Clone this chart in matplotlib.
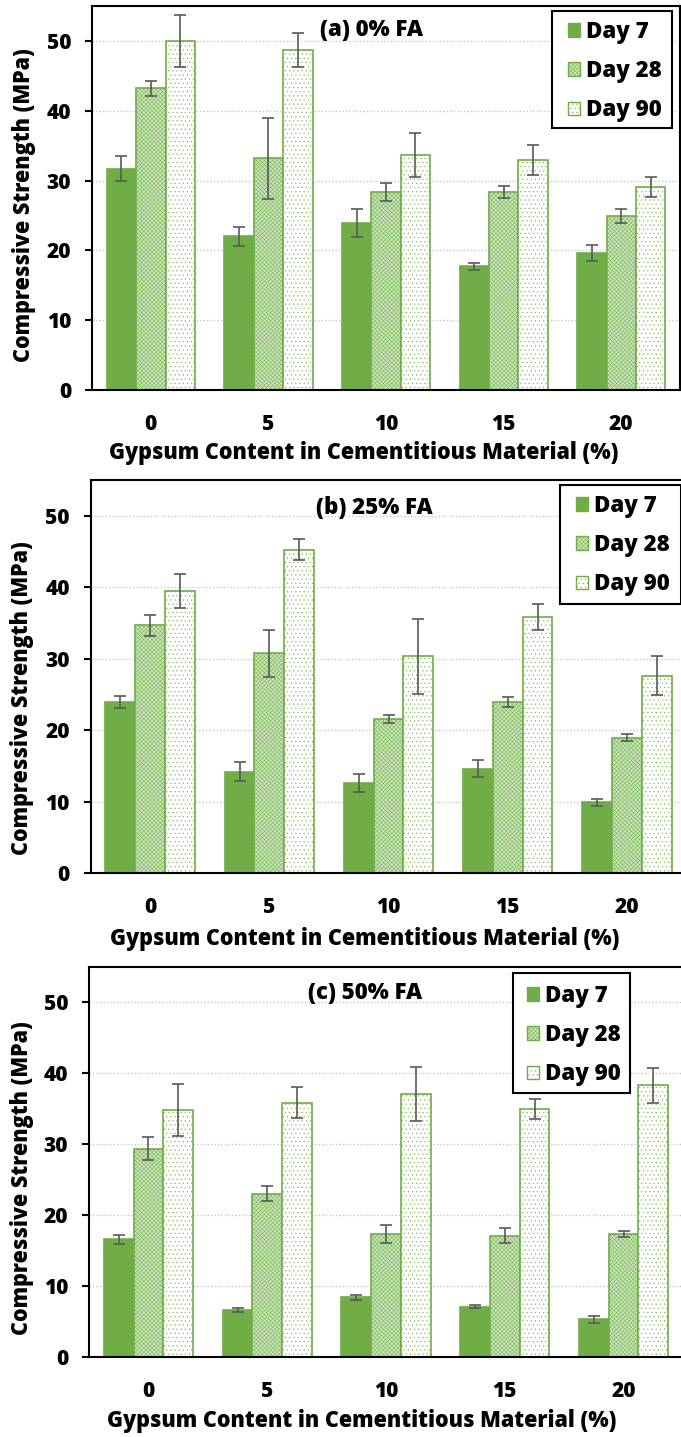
import matplotlib
matplotlib.use("Agg")
import matplotlib.pyplot as plt
from matplotlib.patches import Rectangle
import numpy as np

# ---- data -----------------------------------------------------------------
gypsum_pct = [0, 5, 10, 15, 20]
series_labels = ["Day 7", "Day 28", "Day 90"]
panel_titles = ["(a) 0% FA", "(b) 25% FA", "(c) 50% FA"]

fa0_day7 = [31.7, 22.0, 23.9, 17.7, 19.6]
fa0_day7_err = [1.8, 1.35, 2.05, 0.55, 1.15]
fa0_day28 = [43.2, 33.2, 28.4, 28.35, 24.9]
fa0_day28_err = [1.1, 5.8, 1.3, 0.85, 1.0]
fa0_day90 = [50.0, 48.7, 33.6, 32.95, 29.1]
fa0_day90_err = [3.7, 2.5, 3.15, 2.15, 1.4]

fa25_day7 = [23.95, 14.2, 12.6, 14.6, 9.9]
fa25_day7_err = [0.8, 1.3, 1.2, 1.2, 0.5]
fa25_day28 = [34.65, 30.75, 21.55, 23.95, 18.95]
fa25_day28_err = [1.45, 3.3, 0.6, 0.7, 0.45]
fa25_day90 = [39.5, 45.25, 30.3, 35.8, 27.6]
fa25_day90_err = [2.35, 1.5, 5.2, 1.85, 2.7]

fa50_day7 = [16.6, 6.6, 8.4, 7.1, 5.3]
fa50_day7_err = [0.65, 0.3, 0.4, 0.2, 0.45]
fa50_day28 = [29.4, 23.0, 17.35, 17.1, 17.35]
fa50_day28_err = [1.6, 1.05, 1.25, 1.05, 0.4]
fa50_day90 = [34.8, 35.85, 37.1, 34.95, 38.3]
fa50_day90_err = [3.7, 2.2, 3.8, 1.45, 2.5]

# ---- style ----------------------------------------------------------------
plt.rcParams["font.family"] = ["Open Sans", "DejaVu Sans"]
plt.rcParams["font.weight"] = "heavy"
plt.rcParams["hatch.linewidth"] = 0.3

WT = "heavy"
GREEN = "#70AD47"
LIGHT = "#c9e3b8"
ERR = "#595959"
FS_TICK = 15
FS_LAB = 15.5
FS_TXT = 16

W, H = 681, 1437
fig = plt.figure(figsize=(W / 100, H / 100), dpi=100)

# plot-area boxes in pixels: left, right, top, bottom
boxes = [(92, 680, 6, 390), (90.5, 686.5, 480, 873), (89, 683, 967, 1357)]
title_xy = [(372, 30), (374, 508), (365, 993)]
# legend frame (left, right, top, bottom) and (handle x, middle row y)
legend_box = [(552, 672, 11, 128), (560, 681, 485, 604), (513, 630, 973, 1093)]
legend_anchor = [(568, 71), (576, 545), (527, 1035)]
xlabel_xy = [(364, 453), (365, 939), (362, 1421)]
ylabel_x = [24, 22, 22]
ylabel_yc = [205, 698, 1178]

panels = [
    [(fa0_day7, fa0_day7_err), (fa0_day28, fa0_day28_err), (fa0_day90, fa0_day90_err)],
    [(fa25_day7, fa25_day7_err), (fa25_day28, fa25_day28_err), (fa25_day90, fa25_day90_err)],
    [(fa50_day7, fa50_day7_err), (fa50_day28, fa50_day28_err), (fa50_day90, fa50_day90_err)],
]

styles = [
    dict(facecolor=GREEN, edgecolor=GREEN, hatch=None),
    dict(facecolor=LIGHT, edgecolor=GREEN, hatch="xxxxxxxx"),
    dict(facecolor="white", edgecolor=GREEN, hatch="...."),
]

x = np.arange(len(gypsum_pct))
bw = 0.25

for i, (box, series) in enumerate(zip(boxes, panels)):
    l, r, t, b = box
    ax = fig.add_axes([l / W, 1 - b / H, (r - l) / W, (b - t) / H])
    ax.set_xlim(-0.5, 4.5)
    ax.set_ylim(0, 55)
    ax.set_axisbelow(True)
    ax.yaxis.grid(True, color="#c8c8c8", linestyle=(0, (1, 1.5)), linewidth=1.0)

    handles = []
    for k, ((vals, errs), st) in enumerate(zip(series, styles)):
        bars = ax.bar(x + (k - 1) * bw, vals, bw, yerr=errs,
                      facecolor=st["facecolor"], edgecolor=st["edgecolor"],
                      hatch=st["hatch"], linewidth=1.2, label=series_labels[k],
                      error_kw=dict(ecolor=ERR, elinewidth=1.2, capsize=4.3,
                                    capthick=1.2), zorder=2)
        handles.append(bars)

    ax.set_yticks([0, 10, 20, 30, 40, 50])
    ax.set_xticks(x)
    ax.set_xticklabels([str(g) for g in gypsum_pct])
    ax.tick_params(axis="y", direction="out", length=5, width=1.5, pad=10,
                   labelsize=FS_TICK)
    ax.tick_params(axis="x", length=0, pad=17, labelsize=FS_TICK)
    for lab in ax.get_xticklabels() + ax.get_yticklabels():
        lab.set_fontweight(WT)
    for sp in ax.spines.values():
        sp.set_linewidth(1.5)
        sp.set_color("black")

    def to_ax(px, py):
        return (px - l) / (r - l), (b - py) / (b - t)

    ax.set_xlabel("Gypsum Content in Cementitious Material (%)", fontsize=FS_LAB,
                  fontweight=WT)
    ax.xaxis.set_label_coords(*to_ax(*xlabel_xy[i]))
    ax.xaxis.label.set_va("center")
    ax.set_ylabel("Compressive Strength (MPa)", fontsize=FS_LAB, fontweight=WT)
    ax.yaxis.set_label_coords(*to_ax(ylabel_x[i], ylabel_yc[i]))
    ax.yaxis.label.set_va("center")

    tx, ty = to_ax(*title_xy[i])
    ax.text(tx, ty, panel_titles[i], transform=ax.transAxes, ha="center",
            va="center", fontsize=FS_TXT, fontweight=WT)

    # legend frame
    bl, br, bt, bb = legend_box[i]
    frame = Rectangle((bl / W, 1 - bb / H), (br - bl) / W, (bb - bt) / H,
                      transform=fig.transFigure, facecolor="white",
                      edgecolor="black", linewidth=1.5, zorder=4.5,
                      clip_on=False)
    ax.add_patch(frame)

    hx, hy = legend_anchor[i]
    leg = ax.legend(handles=handles, labels=series_labels, loc="center left",
                    bbox_to_anchor=(hx / W, 1 - hy / H),
                    bbox_transform=fig.transFigure, borderaxespad=0,
                    borderpad=0, prop=dict(weight=WT, size=FS_TXT),
                    handlelength=0.55, handleheight=0.55, handletextpad=0.25,
                    labelspacing=0.68, frameon=False)
    leg.set_zorder(6)
    for h in leg.legend_handles:
        h.set_linewidth(1.0)

fig.savefig("out.png", dpi=100)
